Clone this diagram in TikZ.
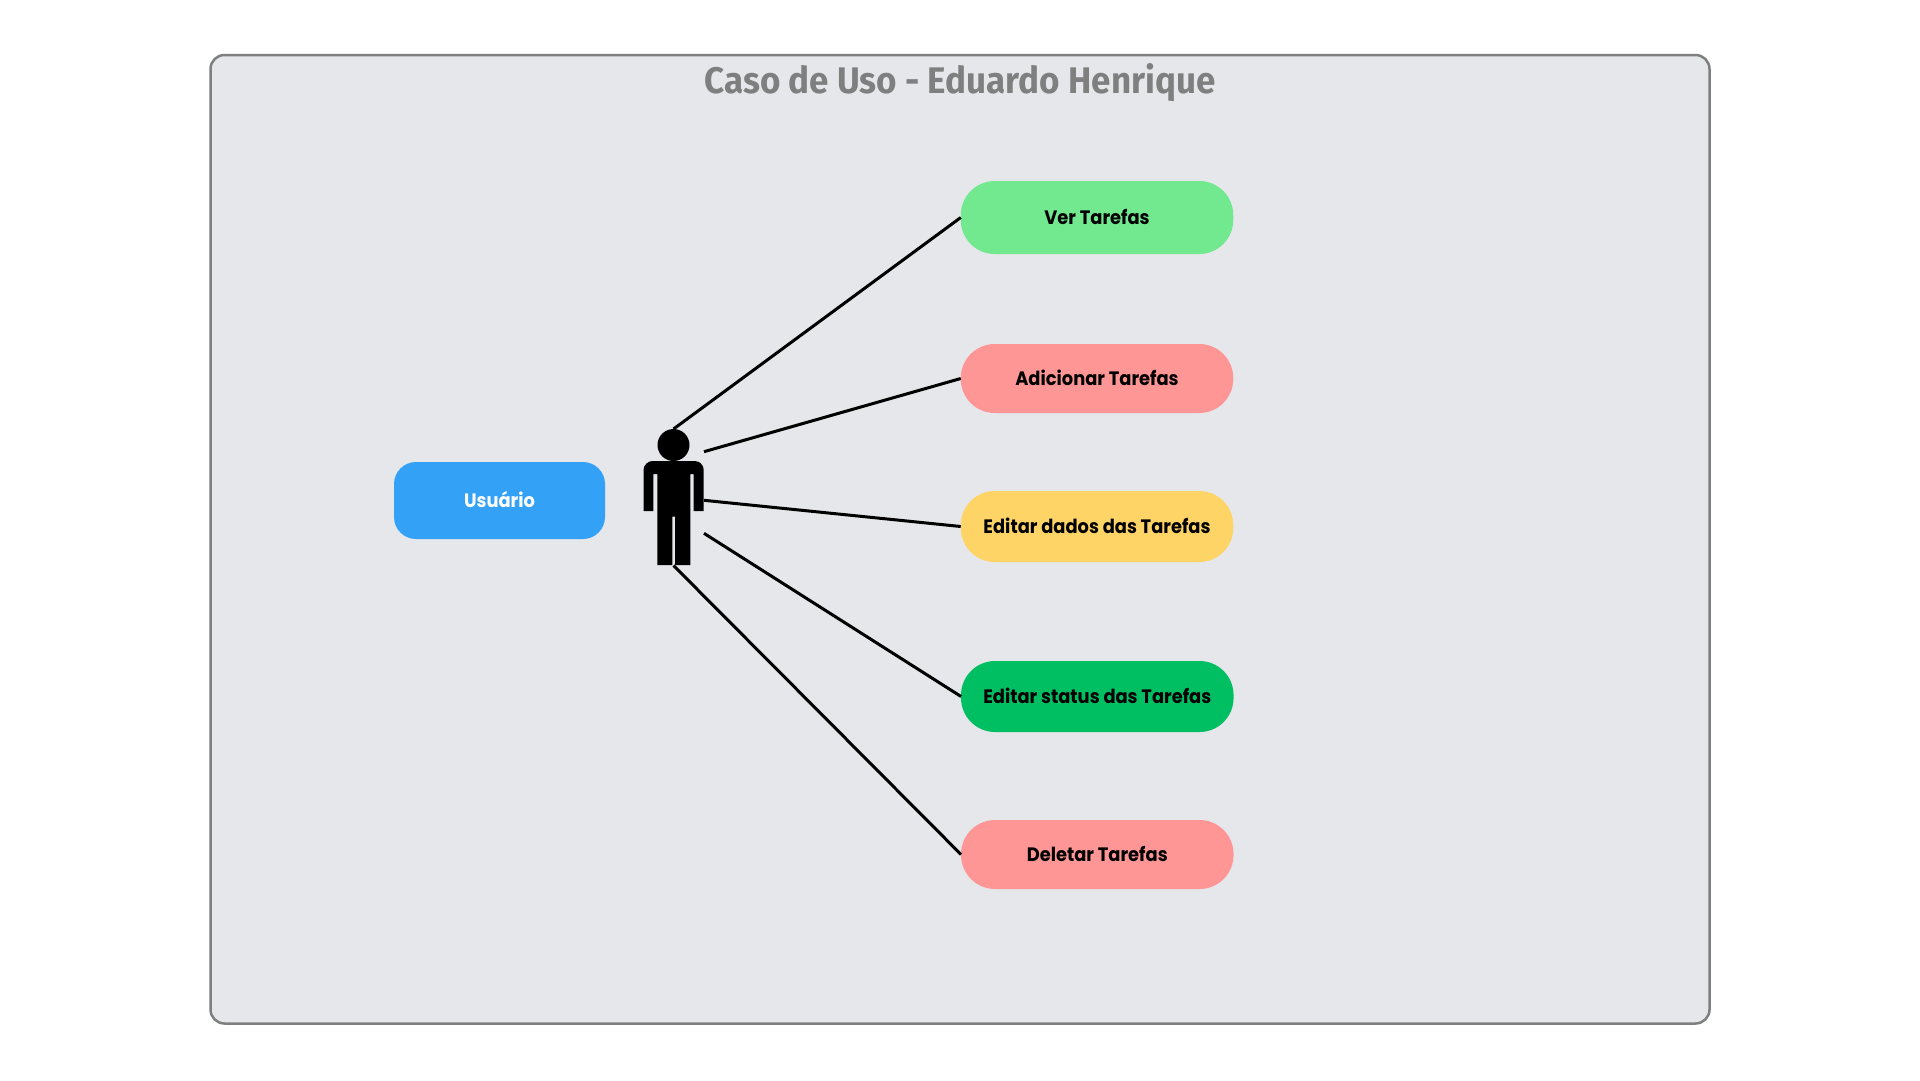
\documentclass[tikz,border=0pt]{standalone}
\usepackage{fontspec}
\setmainfont{Poppins}
\newfontfamily\titlefont[FakeStretch=0.945]{Fira Sans}
\newfontfamily\labelfont[FakeStretch=0.92]{Poppins}
\definecolor{panelfill}{HTML}{E6E7EB}
\definecolor{panelline}{HTML}{7F7F7F}
\definecolor{cgreen}{HTML}{72E88F}
\definecolor{cred}{HTML}{FF9696}
\definecolor{cyellow}{HTML}{FFD466}
\definecolor{cdark}{HTML}{00BF63}
\definecolor{cblue}{HTML}{33A1F5}
\tikzset{
  usecase/.style={minimum width=272.5pt,inner sep=0pt,outer sep=0pt,rounded corners=34pt,
    text height=16pt,text depth=2.4pt,
    font=\labelfont\bfseries\fontsize{19.4}{24}\selectfont,text=black},
  actorbox/.style={minimum width=211pt,minimum height=77pt,inner sep=0pt,outer sep=0pt,rounded corners=22pt,
    text height=16pt,text depth=2.4pt,
    fill=cblue,font=\labelfont\bfseries\fontsize{19.4}{24}\selectfont,text=white},
  link/.style={draw=black,line width=3pt},
}
\begin{document}
\begin{tikzpicture}[x=1pt,y=-1pt]
\useasboundingbox (0,0) rectangle (1920,1080);
\fill[white] (0,0) rectangle (1920,1080);
\draw[panelline,fill=panelfill,line width=2.5pt,rounded corners=14pt] (210.5,55) rectangle (1709.5,1023.5);
\node[anchor=base,inner sep=0pt,text=panelline,font=\titlefont\bfseries\fontsize{37}{42}\selectfont] (title) at (960,93.3) {Caso de Uso - Eduardo Henrique};

\node[usecase,fill=cgreen,minimum height=73pt] (ver) at (1097,217.5) {Ver Tarefas};
\node[usecase,fill=cred,minimum height=69pt] (add) at (1097,378.5) {Adicionar Tarefas};
\node[usecase,fill=cyellow,minimum height=71pt] (dados) at (1097,526.5) {Editar dados das Tarefas};
\node[usecase,fill=cdark,minimum height=71pt] (status) at (1097.3,696.5) {Editar status das Tarefas};
\node[usecase,fill=cred,minimum height=69pt] (del) at (1097.3,854.5) {Deletar Tarefas};
\node[actorbox] (user) at (499.5,500.5) {Usuário};

\node[circle,fill=black,minimum size=32pt,inner sep=0pt,outer sep=0pt] (head) at (673.5,445) {};
\fill[black] (643.5,511) -- (643.5,470) .. controls (643.5,465) and (648,461) .. (652.5,461)
  -- (694.7,461) .. controls (699.7,461) and (703.7,465) .. (703.7,470)
  -- (703.7,511) -- (693.7,511) -- (693.7,474) -- (690.3,474) -- (690.3,565) -- (675,565)
  -- (675,516.7) -- (672.3,516.7) -- (672.3,565) -- (657.3,565) -- (657.3,474) -- (653.3,474)
  -- (653.3,511) -- cycle;
\coordinate (pA) at (704,451.7);
\coordinate (pB) at (704,500.3);
\coordinate (pC) at (704,533.3);
\coordinate (pFoot) at (673.5,565.5);

\draw[link] (head.north) -- (ver.west);
\draw[link] (pA) -- (add.west);
\draw[link] (pB) -- (dados.west);
\draw[link] (pC) -- (status.west);
\draw[link] (pFoot) -- (del.west);
\end{tikzpicture}
\end{document}
